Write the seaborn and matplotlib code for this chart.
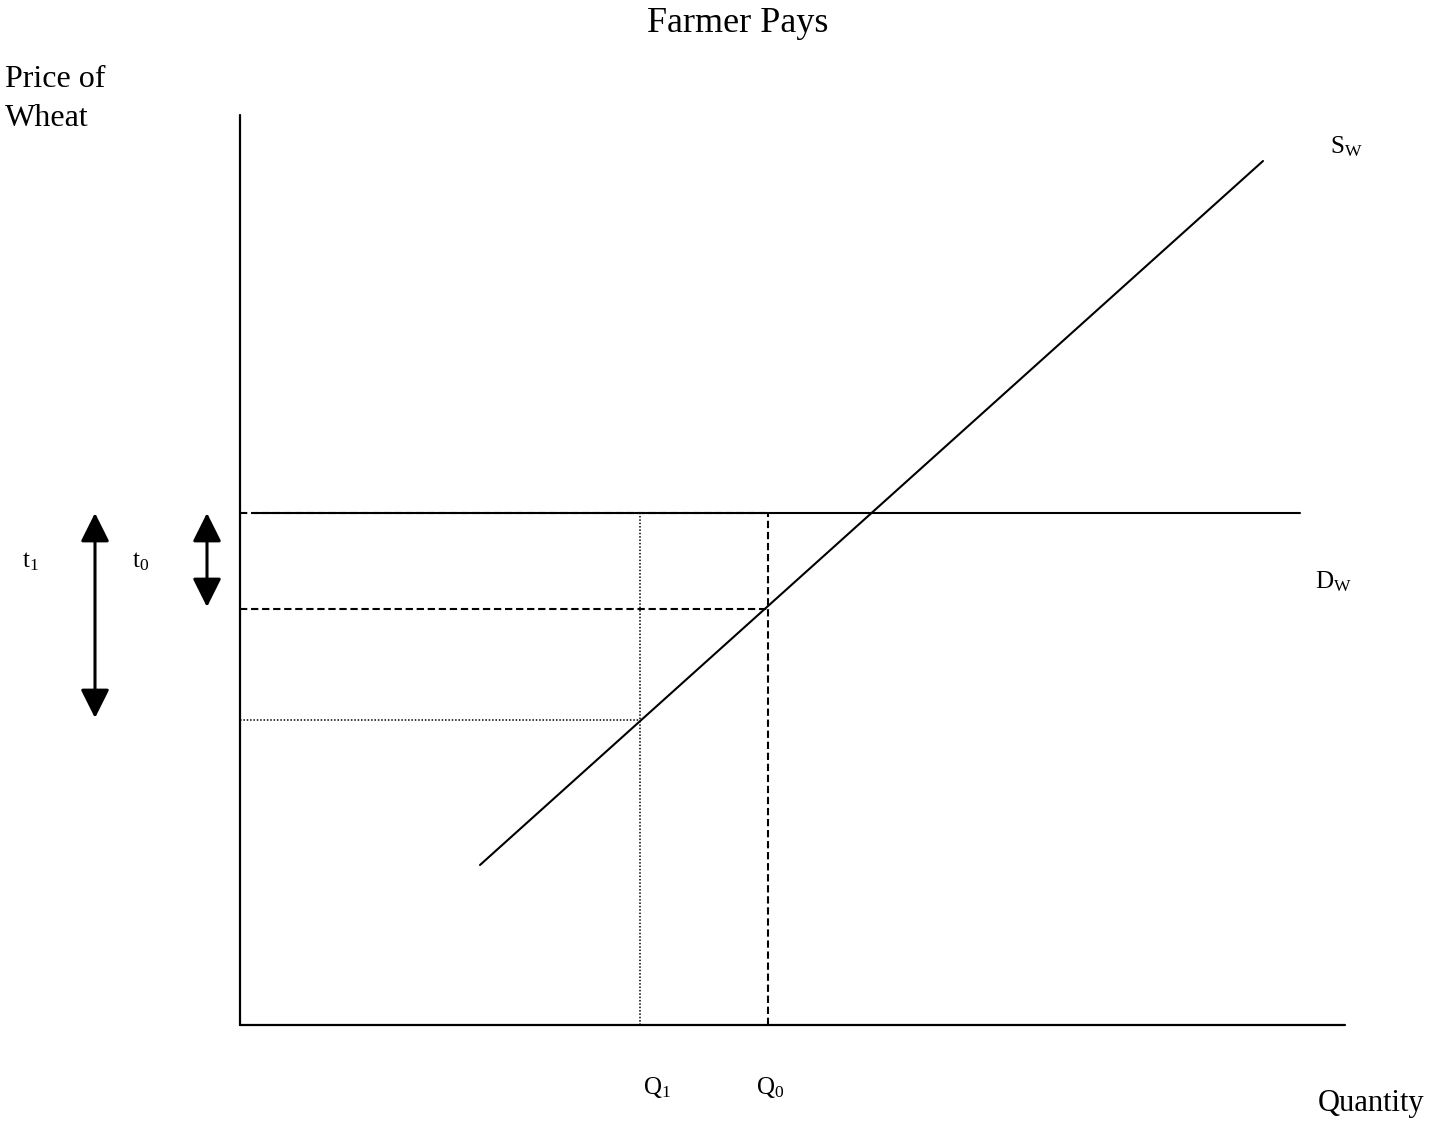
import numpy as np
import seaborn as sns
import matplotlib.pyplot as plt

sns.set_theme(style="white")
plt.rcParams['font.family'] = ['Liberation Serif', 'DejaVu Serif']
plt.rcParams['text.color'] = 'black'

# data (chart units: origin at the axes corner, price up)
supply_q = [240, 1023]
supply_p = [160, 864]
demand_q = [15, 1060]
demand_p = [512, 512]

q0, q1 = 528, 400      # Q0, Q1
p_top = 512            # price with tariff
p0 = 416               # price at Q0
p1 = 305               # price at Q1

axis_x_end = 1105
axis_y_end = 910

t1_x, t0_x = -145, -33

fig = plt.figure(figsize=(14.31, 11.21), dpi=100)
ax = fig.add_axes([0, 0, 1, 1])
ax.set_xlim(-240, 1191)
ax.set_ylim(-96, 1025)
ax.axis("off")

# axes lines
sns.lineplot(x=[0, 0], y=[0, axis_y_end], color="black", lw=1.6, ax=ax,
             sort=False, estimator=None)
sns.lineplot(x=[0, axis_x_end], y=[0, 0], color="black", lw=1.6, ax=ax,
             sort=False, estimator=None)

# supply and demand
sns.lineplot(x=supply_q, y=supply_p, color="black", lw=1.5, ax=ax, sort=False, estimator=None)
sns.lineplot(x=demand_q, y=demand_p, color="black", lw=1.5, ax=ax, sort=False, estimator=None)

# dashed guides at Q0
dash = (0, (3.5, 1.8))
ax.plot([0, q0], [p_top, p_top], color="black", lw=1.5, ls=dash)
ax.plot([0, q0], [p0, p0], color="black", lw=1.5, ls=dash)
ax.plot([q0, q0], [0, p_top], color="black", lw=1.5, ls=dash)

# dotted guides at Q1
ax.plot([0, q1], [p1, p1], color="black", lw=1.1, ls=(0, (1, 1.2)))
ax.plot([q1, q1], [0, p_top], color="black", lw=1.1, ls=(0, (1, 1.2)))

# double arrows
arrow = dict(arrowstyle="<|-|>,head_length=1.1,head_width=0.55", color="black",
             lw=2.2, mutation_scale=16, shrinkA=0, shrinkB=0)
ax.annotate("", xy=(t1_x, p_top), xytext=(t1_x, p1 + 2), arrowprops=arrow)
ax.annotate("", xy=(t0_x, p_top), xytext=(t0_x, p0 + 2), arrowprops=arrow)

# text
lab = 18
ax.text(498, 1002, "Farmer Pays", fontsize=26, ha="center", va="center")
ax.text(-235, 960, "Price of\nWheat", fontsize=23, ha="left", va="top", linespacing=1.45)
ax.text(1078, -79, "Quantity", fontsize=22, ha="left", va="center")
ax.text(-218, 463, r"$\mathregular{t_1}$", fontsize=lab, ha="left", va="center")
ax.text(-108, 463, r"$\mathregular{t_0}$", fontsize=lab, ha="left", va="center")
ax.text(1090, 878, r"$\mathregular{S_W}$", fontsize=lab, ha="left", va="center")
ax.text(1075, 443, r"$\mathregular{D_W}$", fontsize=lab, ha="left", va="center")
ax.text(403, -62, r"$\mathregular{Q_1}$", fontsize=lab, ha="left", va="center")
ax.text(516, -62, r"$\mathregular{Q_0}$", fontsize=lab, ha="left", va="center")

fig.savefig("out.png", dpi=100)
